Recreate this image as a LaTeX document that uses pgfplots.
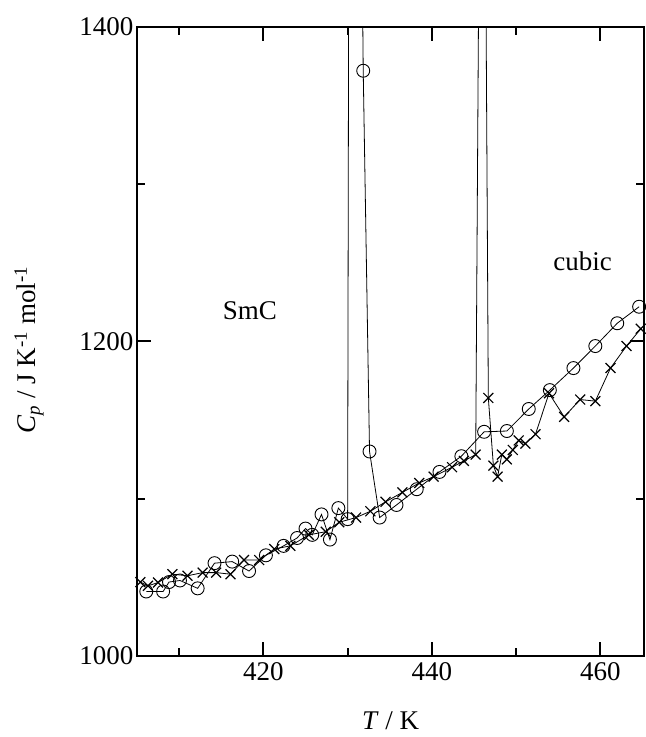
\documentclass[border=0pt]{standalone}
\usepackage{fontspec}
\setmainfont{Liberation Serif}
\usepackage{pgfplots}
\pgfplotsset{compat=1.18}
\begin{document}
\begin{tikzpicture}[font=\fontsize{27bp}{32bp}\selectfont]
\begin{axis}[
  scale only axis, width=507.2bp, height=629.3bp,
  xmin=405, xmax=465.2, ymin=1000, ymax=1400,
  xtick={420,440,460}, minor xtick={410,430,450},
  ytick={1000,1200,1400}, minor ytick={1100,1300},
  major tick length=14bp, minor tick length=8bp,
  tick align=inside,
  axis line style={line width=1.8bp},
  every tick/.style={line width=1.8bp, black},
  /pgf/number format/assume math mode=true,
  /pgf/number format/1000 sep={},
  xticklabel style={yshift=-3bp},
  xlabel={\textit{T} / K},
  xlabel style={at={(axis description cs:0.5,0)}, anchor=base, yshift=-73bp},
  ylabel={\textit{C}\textsubscript{\textit{p}} / J K\textsuperscript{-1} mol\textsuperscript{-1}},
  ylabel style={at={(axis description cs:-0.213,0.486)}, anchor=center},
]
% x series
\addplot[black, line width=0.8bp, mark=x, mark size=7bp, mark options={line width=1.2bp}] coordinates {
(405.4,1047) (406.3,1044.6) (407.5,1046.7) (409.2,1052) (411.0,1051) (412.8,1053)
(414.4,1053) (416.1,1052) (417.7,1061) (419.5,1061) (421.3,1068) (423.2,1070)
(425.4,1077) (427.4,1079) (429.0,1085) (431.0,1088) (432.7,1092) (434.5,1098)
(436.5,1104) (438.5,1110) (440.2,1114) (442.4,1120) (443.8,1124) (445.2,1128)
(446.0,1800) (446.7,1164) (447.3,1121) (447.8,1114) (448.3,1128) (448.9,1125)
(449.6,1131) (450.3,1137) (451.1,1135) (452.3,1141) (453.9,1167) (455.7,1152)
(457.6,1163) (459.4,1162) (461.2,1183) (463.1,1197) (464.8,1208)
};
% circle series
\addplot[black, line width=0.8bp, mark=o, mark size=6.5bp, mark options={fill=white, line width=0.9bp}] coordinates {
(406.1,1041) (408.1,1041) (408.8,1047) (410.1,1048) (412.2,1043) (414.2,1059)
(416.3,1060) (418.3,1054) (420.3,1064) (422.4,1070) (424.0,1075) (425.0,1081)
(425.8,1077) (426.9,1090) (427.9,1074) (428.9,1094) (430.0,1087) (430.4,2200)
(431.85,1372) (432.6,1130) (433.8,1088) (435.8,1096) (438.2,1106) (440.9,1117)
(443.5,1127) (446.2,1142.5) (448.9,1143) (451.5,1157) (454.0,1169) (456.8,1183)
(459.4,1197) (462.0,1211.5) (464.6,1222)
};
\node[anchor=base] at (axis cs:418.4,1213.6) {SmC};
\node[anchor=base] at (axis cs:457.9,1244.8) {cubic};
\end{axis}
\pgfresetboundingbox
\path[use as bounding box] (-137bp,-81bp) rectangle (508.2bp,656bp);
\end{tikzpicture}
\end{document}
